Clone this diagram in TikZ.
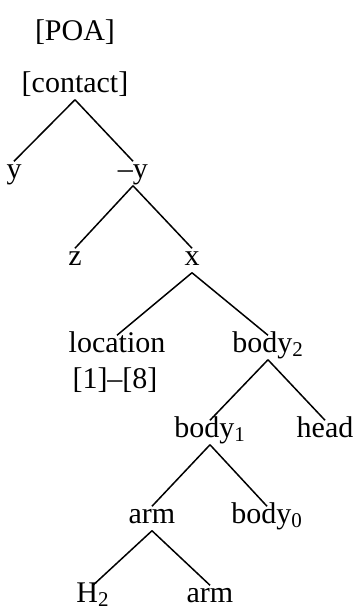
\documentclass[tikz,border=0pt]{standalone}
\usepackage{fontspec}
\setmainfont{Liberation Serif}
\usepackage{tikz}

\begin{document}
\begin{tikzpicture}[x=0.5pt, y=-0.5pt, line width=0.75pt, every node/.style={font=\fontsize{15}{18}\selectfont, inner sep=1pt, anchor=base}, feat/.style={text height=0.7em, text depth=0.25em}]
  \useasboundingbox (0,0) rectangle (356,612);
  \node (poa) at (75,40) {[POA]};
  \node[feat] (contact) at (75,92) {[contact]};
  \node[feat] (y) at (14,178) {y};
  \node[feat] (negy) at (133,178) {--y};
  \node[feat] (z) at (75,265) {z};
  \node[feat] (x) at (192,265) {x};
  \node[feat] (location) at (117,352) {location};
  \node (range) at (115,388) {[1]--[8]};
  \node[feat] (body2) at (268,352) {body\textsubscript{2}};
  \node[feat] (body1) at (210,437) {body\textsubscript{1}};
  \node[feat] (head) at (325,437) {head};
  \node[feat] (arm) at (152,523) {arm};
  \node[feat] (body0) at (267,523) {body\textsubscript{0}};
  \node[feat] (hand) at (93,602) {H\textsubscript{2}};
  \node[feat] (armb) at (210,602) {arm};
  \draw (contact.south) -- (y.north);
  \draw (contact.south) -- (negy.north);
  \draw (negy.south) -- (z.north);
  \draw (negy.south) -- (x.north);
  \draw (x.south) -- (location.north);
  \draw (x.south) -- (body2.north);
  \draw (body2.south) -- (body1.north);
  \draw (body2.south) -- (head.north);
  \draw (body1.south) -- (arm.north);
  \draw (body1.south) -- (body0.north);
  \draw (arm.south) -- (hand.north);
  \draw (arm.south) -- (armb.north);
\end{tikzpicture}
\end{document}
